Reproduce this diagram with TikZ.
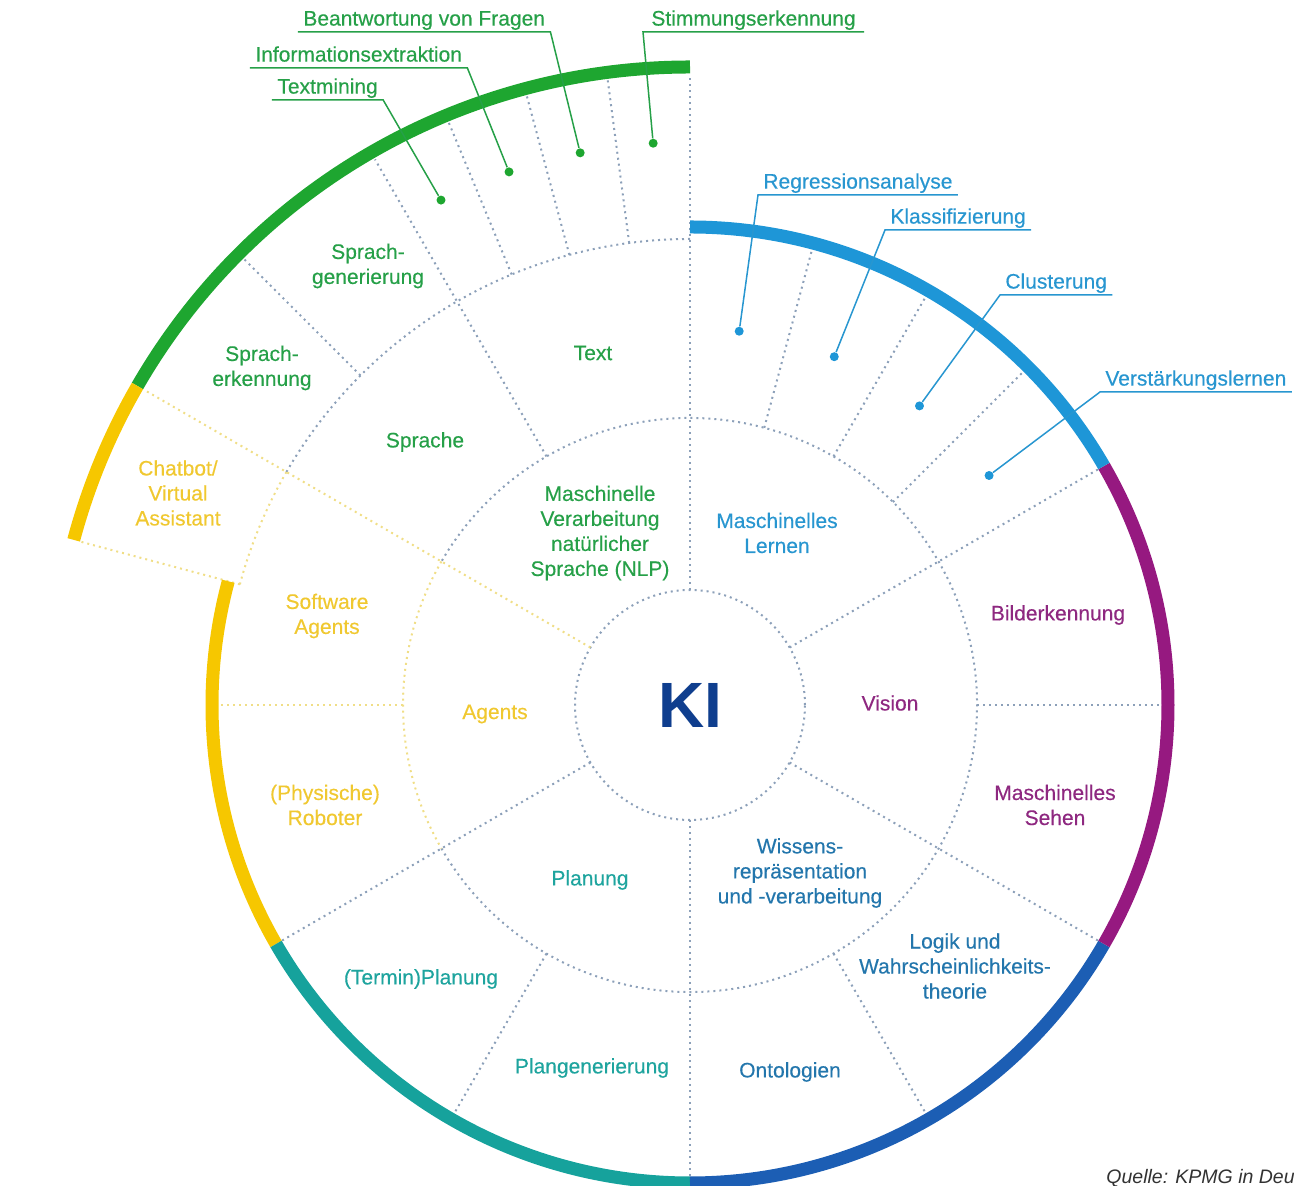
\documentclass[tikz,border=0pt]{standalone}
\usepackage{fontspec}
\setmainfont{Liberation Sans}
\newfontfamily\medfont[FakeBold=0.35]{Liberation Sans}

\definecolor{nlpgreen}{RGB}{30,166,48}
\definecolor{nlptext}{RGB}{38,160,72}
\definecolor{mlblue}{RGB}{30,150,215}
\definecolor{mltext}{RGB}{40,150,208}
\definecolor{visionpurple}{RGB}{150,25,128}
\definecolor{visiontext}{RGB}{142,40,128}
\definecolor{wissenblue}{RGB}{28,94,180}
\definecolor{wissentext}{RGB}{35,118,172}
\definecolor{planteal}{RGB}{22,162,156}
\definecolor{plantext}{RGB}{30,164,158}
\definecolor{agentyellow}{RGB}{246,199,0}
\definecolor{agenttext}{RGB}{240,200,48}
\definecolor{kinavy}{RGB}{15,62,142}
\definecolor{dotgray}{RGB}{140,160,185}
\definecolor{dotyellow}{RGB}{240,222,135}
\definecolor{quellegray}{RGB}{50,50,50}

\tikzset{
  ring/.style={line width=6.5pt},
  divider/.style={dotgray, line width=1pt, dash pattern=on 1pt off 2pt},
  agentdivider/.style={divider, dotyellow},
  catlabel/.style={font=\medfont\fontsize{10.5}{12.5}\selectfont, align=center},
  itemtag/.style={font=\medfont\fontsize{10.5}{12.5}\selectfont, inner xsep=2.5pt, inner ysep=0.5pt, text depth=2.5pt, anchor=south west},
  leader/.style={line width=0.75pt},
  leaderdot/.style={circle, fill, inner sep=0pt, minimum size=4.5pt}
}

\begin{document}
\begin{tikzpicture}[x=0.5pt, y=0.5pt]
  \useasboundingbox (-690,-481) rectangle (604,705);

  % dotted rings
  \draw[divider] (0,0) circle[radius=115];
  \draw[divider] (-150:287) arc[start angle=-150, end angle=150, radius=287];
  \draw[agentdivider] (150:287) arc[start angle=150, end angle=210, radius=287];
  \draw[divider] (90:466) arc[start angle=90, end angle=150, radius=466];
  \draw[agentdivider] (150:466) arc[start angle=150, end angle=165, radius=466];

  % sector borders and splits
  \draw[divider] (90:115) -- (90:630);
  \foreach \a in {30,-30,-90,-150}
    \draw[divider] (\a:115) -- (\a:472);
  \draw[agentdivider] (150:115) -- (150:630);
  \foreach \a in {75,60,45,0,-60,-120}
    \draw[divider] (\a:287) -- (\a:472);
  \draw[divider] (120:287) -- (120:630);
  \foreach \a in {97.5,105,112.5,135}
    \draw[divider] (\a:466) -- (\a:630);
  \draw[agentdivider] (180:287) -- (180:472);
  \draw[agentdivider] (165:466) -- (165:632);

  % coloured rim
  \draw[ring, nlpgreen] (90:638) arc[start angle=90, end angle=150, radius=638];
  \draw[ring, agentyellow] (150:638) arc[start angle=150, end angle=165, radius=638];
  \draw[ring, agentyellow] (165:478) arc[start angle=165, end angle=210, radius=478];
  \draw[ring, planteal] (210:478) arc[start angle=210, end angle=270, radius=478];
  \draw[ring, wissenblue] (270:478) arc[start angle=270, end angle=330, radius=478];
  \draw[ring, visionpurple] (-30:478) arc[start angle=-30, end angle=30, radius=478];
  \draw[ring, mlblue] (30:478) arc[start angle=30, end angle=90, radius=478];

  % centre
  \node[font=\fontsize{32}{32}\selectfont\bfseries, text=kinavy] (ki) at (0,0) {KI};

  % inner ring
  \node[catlabel, text=nlptext] (nlp) at (-90,172) {Maschinelle\\Verarbeitung\\natürlicher\\Sprache (NLP)};
  \node[catlabel, text=mltext] (ml) at (87,172) {Maschinelles\\Lernen};
  \node[catlabel, text=visiontext] (vision) at (200,2) {Vision};
  \node[catlabel, text=wissentext] (wissen) at (110,-168) {Wissens-\\repräsentation\\und -verarbeitung};
  \node[catlabel, text=plantext] (planung) at (-100,-175) {Planung};
  \node[catlabel, text=agenttext] (agents) at (-195,-9) {Agents};

  % middle ring
  \node[catlabel, text=nlptext] (text) at (-97,352) {Text};
  \node[catlabel, text=nlptext] (sprache) at (-265,263) {Sprache};
  \node[catlabel, text=nlptext] (sprachgen) at (-322,439) {Sprach-\\generierung};
  \node[catlabel, text=nlptext] (spracherk) at (-428,337) {Sprach-\\erkennung};
  \node[catlabel, text=agenttext] (chatbot) at (-512,212) {Chatbot/\\Virtual\\Assistant};
  \node[catlabel, text=agenttext] (software) at (-363,89) {Software\\Agents};
  \node[catlabel, text=agenttext] (roboter) at (-365,-100) {(Physische)\\Roboter};
  \node[catlabel, text=plantext] (termin) at (-269,-274) {(Termin)Planung};
  \node[catlabel, text=plantext] (plangen) at (-98,-363) {Plangenerierung};
  \node[catlabel, text=wissentext] (ontologien) at (100,-367) {Ontologien};
  \node[catlabel, text=wissentext] (logik) at (265,-261) {Logik und\\Wahrscheinlichkeits-\\theorie};
  \node[catlabel, text=visiontext] (bilder) at (368,90) {Bilderkennung};
  \node[catlabel, text=visiontext] (sehen) at (365,-100) {Maschinelles\\Sehen};

  % text tasks
  \node[itemtag, text=nlptext] (textmining) at (-418,605) {Textmining};
  \node[itemtag, text=nlptext] (infoextr) at (-440,637) {Informationsextraktion};
  \node[itemtag, text=nlptext] (fragen) at (-392,673) {Beantwortung von Fragen};
  \node[itemtag, text=nlptext, inner xsep=4pt] (stimmung) at (-47,673) {Stimmungserkennung};
  \node[leaderdot, nlpgreen] (textminingdot) at (116.25:563) {};
  \node[leaderdot, nlpgreen] (infoextrdot) at (108.75:563) {};
  \node[leaderdot, nlpgreen] (fragendot) at (101.25:563) {};
  \node[leaderdot, nlpgreen] (stimmungdot) at (93.75:563) {};
  \draw[leader, nlptext] (textmining.south west) -- (textmining.south east) -- (textminingdot);
  \draw[leader, nlptext] (infoextr.south west) -- (infoextr.south east) -- (infoextrdot);
  \draw[leader, nlptext] (fragen.south west) -- (fragen.south east) -- (fragendot);
  \draw[leader, nlptext] (stimmung.south east) -- (stimmung.south west) -- (stimmungdot);

  % learning methods
  \node[itemtag, text=mltext] (regression) at (68,510) {Regressionsanalyse};
  \node[itemtag, text=mltext] (klassif) at (195,475) {Klassifizierung};
  \node[itemtag, text=mltext] (cluster) at (310,410) {Clusterung};
  \node[itemtag, text=mltext] (verstaerk) at (410,313) {Verstärkungslernen};
  \node[leaderdot, mlblue] (regressiondot) at (82.5:377) {};
  \node[leaderdot, mlblue] (klassifdot) at (67.5:377) {};
  \node[leaderdot, mlblue] (clusterdot) at (52.5:377) {};
  \node[leaderdot, mlblue] (verstaerkdot) at (37.5:377) {};
  \foreach \n in {regression,klassif,cluster,verstaerk}
    \draw[leader, mltext] (\n.south east) -- (\n.south west) -- (\n dot);

  % source
  \node[font=\fontsize{9.75}{11}\selectfont\itshape, text=quellegray, anchor=base west, inner sep=0pt] (quelle) at (416,-478) {Quelle: KPMG in Deu};
\end{tikzpicture}
\end{document}
